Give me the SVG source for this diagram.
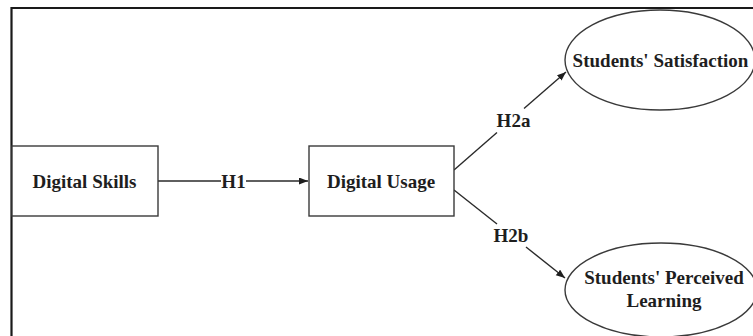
<svg xmlns="http://www.w3.org/2000/svg" width="753" height="336" viewBox="0 0 753 336">
<defs>
<style>
.frame{fill:none;stroke:#1a1a1a;stroke-width:2.2}
.node{fill:#fff;stroke:#3a3a3a;stroke-width:1.4}
.edge{fill:none;stroke:#2a2a2a;stroke-width:1.4}
.lbl{font-family:"Liberation Serif","Times New Roman",serif;font-weight:bold;font-size:19px;fill:#1e1e1e;text-anchor:middle}
</style>
<marker id="arr" markerUnits="userSpaceOnUse" markerWidth="10" markerHeight="8" refX="9" refY="3.5" orient="auto">
<path d="M0,0 L9,3.5 L0,7 z" fill="#1e1e1e"/>
</marker>
</defs>
<rect width="753" height="336" fill="#fff"/>
<path class="frame" d="M11.5,340 V8 H760"/>
<g id="connectors">
<line class="edge" x1="158" y1="181" x2="221" y2="181"/>
<line class="edge" x1="246" y1="181" x2="308" y2="181" marker-end="url(#arr)"/>
<text class="lbl" x="233.5" y="188">H1</text>
<line class="edge" x1="454" y1="170" x2="497" y2="132.5"/>
<line class="edge" x1="524" y1="108.5" x2="566" y2="72" marker-end="url(#arr)"/>
<text class="lbl" x="513.5" y="127">H2a</text>
<line class="edge" x1="454" y1="190" x2="497" y2="224"/>
<line class="edge" x1="526" y1="247" x2="565" y2="278" marker-end="url(#arr)"/>
<text class="lbl" x="511" y="242">H2b</text>
</g>
<g id="digital-skills">
<rect class="node" x="12" y="146" width="146" height="70"/>
<text class="lbl" x="84.5" y="188">Digital Skills</text>
</g>
<g id="digital-usage">
<rect class="node" x="309" y="146" width="145" height="70"/>
<text class="lbl" x="381" y="187.5">Digital Usage</text>
</g>
<g id="students-satisfaction">
<ellipse class="node" cx="660" cy="60" rx="95" ry="50"/>
<text class="lbl" x="660.5" y="67">Students' Satisfaction</text>
</g>
<g id="students-perceived-learning">
<ellipse class="node" cx="661" cy="290" rx="96" ry="47"/>
<text class="lbl" x="664" y="284">Students' Perceived</text>
<text class="lbl" x="664" y="306.5">Learning</text>
</g>
</svg>
